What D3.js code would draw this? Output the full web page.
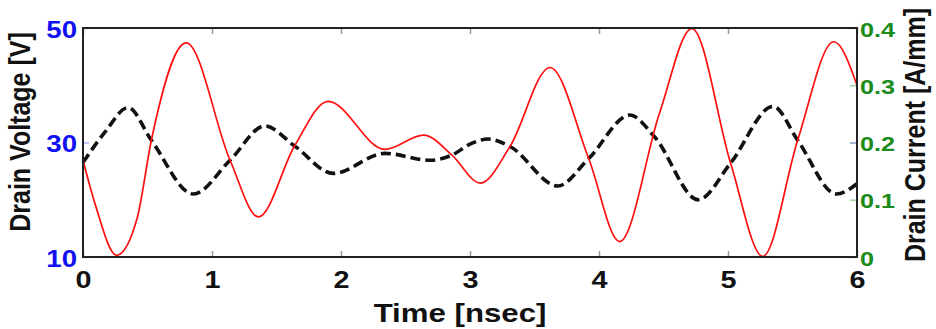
<!DOCTYPE html>
<html>
<head>
<meta charset="utf-8">
<script src="https://cdn.jsdelivr.net/npm/d3@7"></script>
<style>
  html, body { margin: 0; padding: 0; background: #fff; }
  svg { display: block; }
  text { font-family: "Liberation Sans", Arial, Helvetica, sans-serif; font-weight: bold; }
</style>
</head>
<body>
<svg id="chart" width="936" height="329"></svg>
<script>
// ---- data ----
const voltageTime  = [0, 0.10, 0.26, 0.42, 0.53, 0.80, 1.14, 1.36, 1.64, 1.90, 2.34, 2.64, 2.86, 3.08, 3.31, 3.62, 3.92, 4.16, 4.47, 4.72, 5.02, 5.27, 5.54, 5.82, 6.0];
const voltageValue = [26.9, 18.8, 10.3, 16.8, 30.4, 47.4, 26.9, 17.0, 29.4, 37.2, 28.8, 31.3, 27.8, 22.9, 29.3, 43.1, 27.2, 12.7, 35.2, 49.9, 26.4, 10.1, 30.4, 47.6, 40.0];

const currentTime  = [0, 0.17, 0.35, 0.53, 0.855, 1.14, 1.41, 1.64, 1.94, 2.34, 2.69, 2.86, 3.0, 3.14, 3.31, 3.68, 3.92, 4.24, 4.43, 4.77, 5.02, 5.35, 5.54, 5.84, 6.0];
const currentValue = [0.165, 0.218, 0.261, 0.204, 0.110, 0.169, 0.229, 0.194, 0.146, 0.181, 0.169, 0.178, 0.197, 0.206, 0.193, 0.124, 0.172, 0.248, 0.210, 0.100, 0.164, 0.263, 0.204, 0.110, 0.128];

const timeTicks    = [0, 1, 2, 3, 4, 5, 6];
const voltageTicks = [10, 30, 50];
const currentTicks = [0, 0.1, 0.2, 0.3, 0.4];

const xLabel  = "Time [nsec]";
const yLabelL = "Drain Voltage [V]";
const yLabelR = "Drain Current [A/mm]";

// ---- layout ----
const svg = d3.select("#chart");
const M = { left: 83, right: 857, top: 28, bottom: 257 };
const SX = 1.2; // horizontal stretch of glyphs seen in reference

const x  = d3.scaleLinear().domain([0, 6]).range([M.left, M.right]);
const yL = d3.scaleLinear().domain([10, 50]).range([M.bottom, M.top]);
const yR = d3.scaleLinear().domain([0, 0.4]).range([M.bottom, M.top]);

const blue = "#1010f0", green = "#1a8c1a";

// curves
const vData = voltageTime.map((t, i) => ({ t, v: voltageValue[i] }));
const iData = currentTime.map((t, i) => ({ t, v: currentValue[i] }));

svg.append("path")
  .datum(iData)
  .attr("fill", "none")
  .attr("stroke", "#111")
  .attr("stroke-width", 3.6)
  .attr("stroke-dasharray", "10,5")
  .attr("d", d3.line().x(d => x(d.t)).y(d => yR(d.v)).curve(d3.curveMonotoneX));

svg.append("path")
  .datum(vData)
  .attr("fill", "none")
  .attr("stroke", "#ff1010")
  .attr("stroke-width", 1.7)
  .attr("d", d3.line().x(d => x(d.t)).y(d => yL(d.v)).curve(d3.curveMonotoneX));

// bottom axis
const gB = svg.append("g").attr("transform", `translate(0,${M.bottom})`)
  .call(d3.axisBottom(x).tickValues(timeTicks).tickFormat(d3.format("d")).tickSizeInner(-6).tickSizeOuter(0));
gB.select(".domain").remove();
gB.selectAll(".tick line").attr("stroke", "#999").attr("stroke-width", 1.5);
gB.selectAll(".tick text")
  .attr("y", 0).attr("dy", 0)
  .attr("transform", `translate(0,31) scale(${SX},1)`)
  .attr("font-size", 24).attr("fill", "#111");

// top axis (ticks only)
const gT = svg.append("g").attr("transform", `translate(0,${M.top})`)
  .call(d3.axisTop(x).tickValues(timeTicks).tickFormat("").tickSizeInner(-6).tickSizeOuter(0));
gT.select(".domain").remove();
gT.selectAll(".tick line").attr("stroke", "#999").attr("stroke-width", 1.5);

// left axis
const gL = svg.append("g").attr("transform", `translate(${M.left},0)`)
  .call(d3.axisLeft(yL).tickValues(voltageTicks).tickFormat(d3.format("d")).tickSizeInner(-6).tickSizeOuter(0));
gL.select(".domain").remove();
gL.selectAll(".tick line").attr("stroke", "#aab4ff").attr("stroke-width", 1.5);
gL.selectAll(".tick text")
  .attr("x", 0).attr("dy", 0)
  .attr("text-anchor", "end")
  .attr("transform", `translate(-6,9) scale(${SX},1)`)
  .attr("font-size", 23).attr("fill", blue);

// right axis
const gR = svg.append("g").attr("transform", `translate(${M.right},0)`)
  .call(d3.axisRight(yR).tickValues(currentTicks)
    .tickFormat(d => d === 0 ? "0" : d3.format(".1f")(d)).tickSizeInner(-7).tickSizeOuter(0));
gR.select(".domain").remove();
gR.selectAll(".tick line").attr("stroke", (d) => d === 0.2 ? "#8aa0c8" : "#9fd39f").attr("stroke-width", 1.5);
gR.selectAll(".tick text")
  .attr("x", 0).attr("dy", 0)
  .attr("text-anchor", "start")
  .attr("transform", `translate(3,8) scale(${SX},1)`)
  .attr("font-size", 21).attr("fill", green);

// frame
svg.append("rect")
  .attr("x", M.left).attr("y", M.top)
  .attr("width", M.right - M.left).attr("height", M.bottom - M.top)
  .attr("fill", "none").attr("stroke", "#222").attr("stroke-width", 2);

// axis titles
svg.append("text")
  .attr("transform", `translate(460,322) scale(${SX},1)`)
  .attr("text-anchor", "middle")
  .attr("font-size", 26).attr("fill", "#111")
  .text(xLabel);

svg.append("text")
  .attr("transform", `translate(30,132) scale(${SX},1) rotate(-90)`)
  .attr("text-anchor", "middle")
  .attr("font-size", 25).attr("fill", "#111")
  .text(yLabelL);

svg.append("text")
  .attr("transform", `translate(925,135) scale(${SX},1) rotate(-90)`)
  .attr("text-anchor", "middle")
  .attr("font-size", 25).attr("fill", "#111")
  .text(yLabelR);
</script>
</body>
</html>
